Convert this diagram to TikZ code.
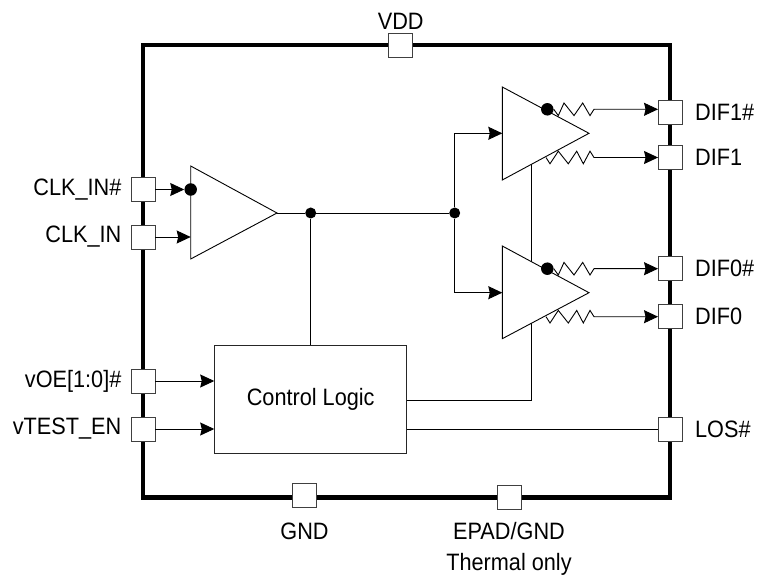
\documentclass[tikz,border=0pt]{standalone}
\usepackage{fontspec}
\setmainfont[FakeStretch=0.915]{Liberation Sans}
\usetikzlibrary{positioning,arrows.meta}
\tikzset{
	pinbox/.style={draw=black!75,fill=white,line width=0.9pt,minimum size=24pt,inner sep=0pt},
	pintext/.style={inner sep=0pt,font=\fontsize{23.7}{26}\selectfont},
	bubble/.style={circle,fill=black,minimum size=12.5pt,inner sep=0pt},
	joint/.style={circle,fill=black,minimum size=11pt,inner sep=0pt},
	amp/.style={draw,fill=white,line width=0.9pt},
	wire/.style={line width=0.9pt},
	arrowwire/.style={wire,->,>={Stealth[length=14pt,width=13pt,inset=1.5pt]}}
}
\newcommand{\zighi}{-- (558.3,\ry+6.3) -- (564,\ry-6.3) -- (574,\ry+6.3) -- (582.7,\ry-6.3) -- (590,\ry+6.3) -- (594,\ry)}
\newcommand{\ziglo}{-- (550,\ry+6.3) -- (558.3,\ry-6.3) -- (568.3,\ry+6.3) -- (576.7,\ry-6.3) -- (583.3,\ry+6.3) -- (590,\ry-6.3) -- (594,\ry)}
\begin{document}
\begin{tikzpicture}[x=1pt,y=-1pt]
	\useasboundingbox (0,0) rectangle (758,580);
	
	%package outline
	\draw[line width=4.5pt] (143,45) rectangle (670,497.5);
	
	%left pins
	\foreach \n/\y/\t in {pinclkn/189.5/{CLK\_IN\#},pinclk/237/{CLK\_IN},pinoe/381/{vOE[1:0]\#},pintest/429/{vTEST\_EN}}{
		\node[pinbox] (\n) at (143,\y) {};
		\node[pintext,left=9pt of \n] (l\n) {\t};
	}
	%right pins
	\foreach \n/\y/\t in {pindifan/112.5/{DIF1\#},pindifa/157.5/{DIF1},pindifbn/268.7/{DIF0\#},pindifb/316.7/{DIF0},pinlos/429/{LOS\#}}{
		\node[pinbox] (\n) at (670.5,\y) {};
		\node[pintext,right=12pt of \n] (l\n) {\t};
	}
	%top and bottom pins
	\node[pinbox] (pinvdd) at (400.7,45) {};
	\node[pinbox] (pingnd) at (304.5,495) {};
	\node[pinbox] (pinepad) at (509,497.5) {};
	\node[pintext,above=2.5pt of pinvdd] (lvdd) {VDD};
	\node[pintext,below=15pt of pingnd] (lgnd) {GND};
	\node[pintext,below=12.5pt of pinepad] (lepad) {EPAD/GND};
	\node[pintext,below=13pt of lepad] (ltherm) {Thermal only};
	
	%control block
	\node[draw=black!85,line width=0.9pt,minimum width=192pt,minimum height=108pt,inner sep=0pt,font=\fontsize{23.7}{26}\selectfont] (ctrl) at (310.7,399) {Control Logic};
	
	%named points
	\coordinate (clkin) at (190.7,237);
	\coordinate (amptip) at (277,213);
	\coordinate (inup) at (502.3,133.3);
	\coordinate (indown) at (502.3,292.7);
	\coordinate (enable) at (531.7,164);
	\node[joint] (jctrl) at (310.7,213) {};
	\node[joint] (jsplit) at (454.7,213) {};
	
	%lines under the amplifiers
	\draw[wire] (amptip) -- (jctrl);
	\draw[wire] (jctrl) -- (jsplit);
	\draw[wire] (jctrl) -- (ctrl);
	\draw[arrowwire] (jsplit) |- (inup);
	\draw[arrowwire] (jsplit) |- (indown);
	\draw[wire] (ctrl.east |- 0,400) -| (enable);
	\draw[wire] (ctrl.east |- pinlos) -- (pinlos);
	\draw[arrowwire] (pinoe) -- (ctrl.west |- pinoe);
	\draw[arrowwire] (pintest) -- (ctrl.west |- pintest);
	
	%amplifiers
	\draw[amp] (190.7,166) -- (amptip) -- (190.7,259) -- cycle;
	\draw[amp] (inup |- 0,87) -- (589,133.3) -- (inup |- 0,180) -- cycle;
	\draw[amp] (indown |- 0,246) -- (589,292.7) -- (indown |- 0,338.7) -- cycle;
	
	%inverting inputs and outputs
	\node[bubble] (bubclk) at (190.7,189.5) {};
	\node[bubble] (bubup) at (547.3,109.3) {};
	\node[bubble] (bubdown) at (547.3,268.7) {};
	\coordinate (resup) at (546,157.5);
	\coordinate (resdown) at (546,316.7);
	
	\draw[arrowwire] (pinclkn) -- (bubclk);
	\draw[arrowwire] (pinclk) -- (clkin);
	
	%resistors
	\def\ry{109.3}
	\draw[arrowwire] (bubup.east) \zighi -- (bubup -| pindifan.west);
	\def\ry{157.5}
	\draw[arrowwire] (resup) \ziglo -- (pindifa);
	\def\ry{268.7}
	\draw[arrowwire] (bubdown.east) \zighi -- (pindifbn);
	\def\ry{316.7}
	\draw[arrowwire] (resdown) \ziglo -- (pindifb);
\end{tikzpicture}
\end{document}
